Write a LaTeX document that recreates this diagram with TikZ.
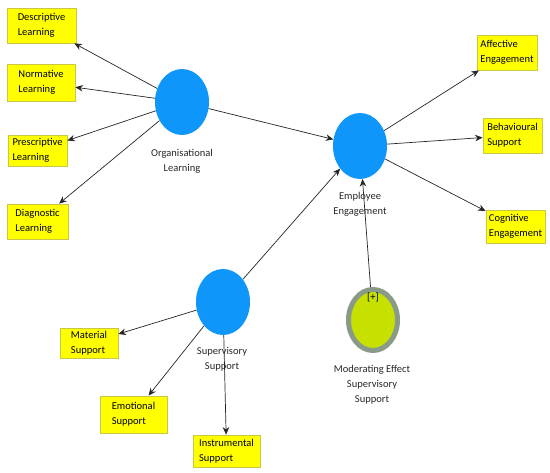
\documentclass[tikz,border=0pt]{standalone}
\usepackage{fontspec}
\setmainfont{Carlito}
\usetikzlibrary{shapes.geometric,arrows.meta}

\definecolor{lvblue}{RGB}{14,150,250}
\definecolor{boxfill}{RGB}{255,255,0}
\definecolor{boxedge}{RGB}{200,200,70}
\definecolor{modfill}{RGB}{198,224,0}
\definecolor{modedge}{RGB}{138,154,136}
\definecolor{labeltext}{RGB}{40,40,40}

\tikzset{
  latent/.style={ellipse, fill=lvblue, inner sep=0pt, minimum width=54pt, minimum height=66pt},
  indicator/.style={draw=boxedge, fill=boxfill, line width=0.8pt, align=left, inner sep=2pt,
    font=\fontsize{10.5}{15}\selectfont},
  lvlabel/.style={align=center, text=labeltext, font=\fontsize{10.5}{15}\selectfont},
  path/.style={draw=black!85, line width=0.7pt, -{Stealth[length=7.5pt,width=6.5pt]}}
}

\begin{document}
\begin{tikzpicture}[x=1pt, y=-1pt]
  \useasboundingbox[fill=white] (0,0) rectangle (550,473);

  % latent variables
  \node[latent] (ol) at (182,102) {};
  \node[latent] (ee) at (360,146) {};
  \node[latent] (ss) at (223,302) {};
  \node[ellipse, fill=modfill, draw=modedge, line width=5pt, inner sep=0pt,
        minimum width=49pt, minimum height=61pt] (mod) at (373,320) {};
  \node[font=\fontsize{10.5}{12}\selectfont] (plus) at (373,297) {[+]};

  \node[lvlabel] (olt) at (182,161) {Organisational\\Learning};
  \node[lvlabel] (eet) at (360,204.5) {Employee\\Engagement};
  \node[lvlabel] (sst) at (222,359.5) {Supervisory\\Support};
  \node[lvlabel] (modt) at (372,385) {Moderating Effect\\Supervisory\\Support};

  % indicators
  \node[indicator, minimum width=69pt, minimum height=35pt] (desc) at (41.5,25.5) {Descriptive\\Learning};
  \node[indicator, minimum width=68pt, minimum height=37pt] (norm) at (41,82.5) {Normative\\Learning};
  \node[indicator, minimum width=59pt, minimum height=31pt] (presc) at (37.5,150.5) {Prescriptive\\Learning};
  \node[indicator, minimum width=61pt, minimum height=35pt] (diag) at (37.5,221.5) {Diagnostic\\Learning};

  \node[indicator, minimum width=60pt, minimum height=35pt] (affe) at (507,52.5) {Affective\\Engagement};
  \node[indicator, minimum width=59pt, minimum height=35pt] (behav) at (512.5,135.5) {Behavioural\\Support};
  \node[indicator, minimum width=59pt, minimum height=33pt] (cogn) at (515.5,226.5) {Cognitive\\Engagement};

  \node[indicator, minimum width=58pt, minimum height=30pt] (mat) at (89,343) {Material\\Support};
  \node[indicator, minimum width=67pt, minimum height=37pt] (emo) at (133.5,414.5) {Emotional\\Support};
  \node[indicator, minimum width=67pt, minimum height=32pt] (instr) at (226.5,451) {Instrumental\\Support};

  % paths
  \draw[path] (ol) -- (desc);
  \draw[path] (ol) -- (norm);
  \draw[path] (ol) -- (presc);
  \draw[path] (ol) -- (diag);
  \draw[path] (ol) -- (ee);
  \draw[path] (ee) -- (affe);
  \draw[path] (ee) -- (behav);
  \draw[path] (ee) -- (cogn);
  \draw[path] (ss) -- (ee);
  \draw[path] (mod) -- (ee);
  \draw[path] (ss) -- (mat);
  \draw[path] (ss) -- (emo);
  \draw[path] (ss) -- (instr);
\end{tikzpicture}
\end{document}
